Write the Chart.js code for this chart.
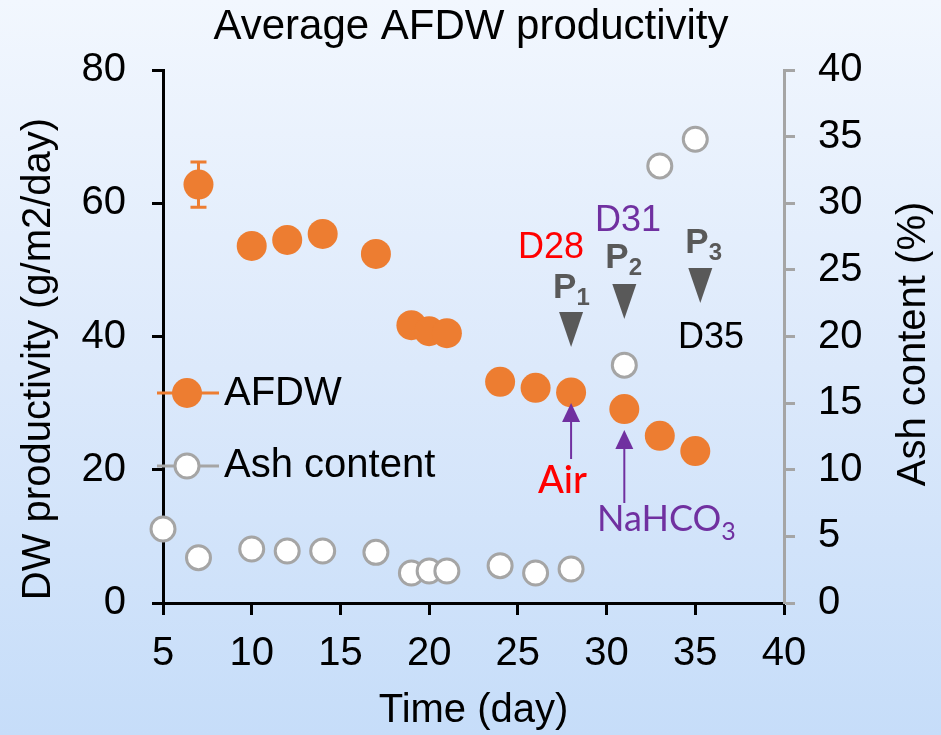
<!DOCTYPE html>
<html>
<head>
<meta charset="utf-8">
<script src="https://cdn.jsdelivr.net/npm/chart.js@4.4.1/dist/chart.umd.min.js"></script>
<style>
  html, body { margin: 0; padding: 0; }
  body {
    width: 941px; height: 735px; overflow: hidden;
    background: linear-gradient(to bottom, #f2f7fe 0%, #dce9fb 50%, #c6ddf9 100%);
  }
</style>
</head>
<body>
<canvas id="myChart" width="941" height="735"></canvas>
<script>
// data
const afdwDays = [7, 10, 12, 14, 17, 19, 20, 21, 24, 26, 28, 31, 33, 35];
const afdw = [62.8, 53.6, 54.5, 55.4, 52.4, 41.7, 40.8, 40.5, 33.2, 32.3, 31.6, 29.1, 25.1, 22.8];
const afdwErr = [3.4, 0, 0, 0, 0, 0, 0, 0, 0, 0, 0, 0, 0, 0];
const ashDays = [5, 7, 10, 12, 14, 17, 19, 20, 21, 24, 26, 28, 31, 33, 35];
const ash = [5.55, 3.4, 4.05, 3.9, 3.9, 3.8, 2.25, 2.4, 2.4, 2.8, 2.25, 2.55, 17.85, 32.8, 34.8];
const xTicks = [5, 10, 15, 20, 25, 30, 35, 40];
const leftTicks = [0, 20, 40, 60, 80];
const rightTicks = [0, 5, 10, 15, 20, 25, 30, 35, 40];

const ORANGE = '#ed7d31';
const GREY = '#a5a5a5';
const PURPLE = '#7030a0';
const FONT = '"Liberation Sans", Arial, sans-serif';
const CALIBRI = 'Lato, "Open Sans", sans-serif';

// error bars for the orange series
const errorBars = {
    id: 'errorBars',
    beforeDatasetsDraw(chart) {
        const ctx = chart.ctx;
        const xs = chart.scales.x, ys = chart.scales.y;
        ctx.save();
        ctx.strokeStyle = ORANGE;
        ctx.lineWidth = 3;
        for (var i = 0; i < afdwDays.length; i++) {
            if (!afdwErr[i]) continue;
            var x = xs.getPixelForValue(afdwDays[i]);
            var top = ys.getPixelForValue(afdw[i] + afdwErr[i]);
            var bot = ys.getPixelForValue(afdw[i] - afdwErr[i]);
            ctx.beginPath();
            ctx.moveTo(x, top); ctx.lineTo(x, bot);
            ctx.moveTo(x - 8, top); ctx.lineTo(x + 8, top);
            ctx.moveTo(x - 8, bot); ctx.lineTo(x + 8, bot);
            ctx.stroke();
        }
        ctx.restore();
    }
};

// title, axis titles, legend and the arrows / labels
const extras = {
    id: 'extras',
    afterDraw(chart) {
        const ctx = chart.ctx;
        const xs = chart.scales.x;
        const px = d => xs.getPixelForValue(d);
        ctx.save();

        // chart title
        ctx.fillStyle = '#000';
        ctx.font = '42px ' + FONT;
        ctx.textAlign = 'center';
        ctx.textBaseline = 'alphabetic';
        ctx.fillText('Average AFDW productivity', 471, 39);

        // axis titles (both read bottom to top)
        ctx.font = '40px ' + FONT;
        ctx.save();
        ctx.translate(50, 359);
        ctx.rotate(-Math.PI / 2);
        ctx.fillText('DW productivity (g/m2/day)', 0, 0);
        ctx.restore();
        ctx.save();
        ctx.translate(925, 344);
        ctx.rotate(-Math.PI / 2);
        ctx.fillText('Ash content (%)', 0, 0);
        ctx.restore();

        // legend
        ctx.lineWidth = 3;
        ctx.strokeStyle = ORANGE;
        ctx.beginPath(); ctx.moveTo(157, 393); ctx.lineTo(219, 393); ctx.stroke();
        ctx.fillStyle = ORANGE;
        ctx.beginPath(); ctx.arc(187, 393, 15, 0, Math.PI * 2); ctx.fill();
        ctx.strokeStyle = GREY;
        ctx.beginPath(); ctx.moveTo(157, 466); ctx.lineTo(219, 466); ctx.stroke();
        ctx.fillStyle = '#fff';
        ctx.beginPath(); ctx.arc(187, 466, 12, 0, Math.PI * 2); ctx.fill(); ctx.stroke();
        ctx.fillStyle = '#000';
        ctx.textAlign = 'left';
        ctx.textBaseline = 'middle';
        ctx.fillText('AFDW', 224, 394);
        ctx.fillText('Ash content', 224, 466);

        // harvest markers P1..P3
        ctx.textBaseline = 'alphabetic';
        function tri(cx, top) {
            ctx.fillStyle = '#595959';
            ctx.beginPath();
            ctx.moveTo(cx - 12, top); ctx.lineTo(cx + 12, top); ctx.lineTo(cx, top + 35);
            ctx.closePath(); ctx.fill();
        }
        function pLabel(x, base, sub) {
            ctx.fillStyle = '#595959';
            ctx.font = 'bold 35px ' + FONT;
            ctx.fillText('P', x, base);
            var w = ctx.measureText('P').width;
            ctx.font = 'bold 24px ' + FONT;
            ctx.fillText(sub, x + w, base + 7);
        }
        tri(px(28), 312); pLabel(px(28) - 18, 298, '1');
        tri(px(31), 284); pLabel(px(31) - 19, 268, '2');
        tri(px(35) + 5, 268); pLabel(px(35) - 10, 253, '3');

        ctx.font = '36px ' + FONT;
        ctx.fillStyle = '#ff0000';
        ctx.fillText('D28', 518, 258);
        ctx.fillStyle = PURPLE;
        ctx.fillText('D31', 595, 231);
        ctx.fillStyle = '#000';
        ctx.fillText('D35', 678, 348);

        // purple arrows
        function arrow(x, tip, end) {
            ctx.strokeStyle = PURPLE;
            ctx.fillStyle = PURPLE;
            ctx.lineWidth = 2;
            ctx.beginPath(); ctx.moveTo(x, tip + 15); ctx.lineTo(x, end); ctx.stroke();
            ctx.beginPath();
            ctx.moveTo(x, tip); ctx.lineTo(x - 9, tip + 19); ctx.lineTo(x + 9, tip + 19);
            ctx.closePath(); ctx.fill();
        }
        arrow(px(28), 403, 459);
        arrow(px(31), 430, 503);

        ctx.font = '500 38px ' + CALIBRI;
        ctx.fillStyle = '#ff0000';
        ctx.fillText('Air', 538, 493);
        ctx.fillStyle = PURPLE;
        ctx.font = '36px ' + CALIBRI;
        ctx.fillText('NaHCO', 597, 531);
        var w = ctx.measureText('NaHCO').width;
        ctx.font = '25px ' + CALIBRI;
        ctx.fillText('3', 597 + w, 540);

        ctx.restore();
    }
};

const tickFont = { family: FONT, size: 40 };

const config = {
    type: 'scatter',
    data: {
        datasets: [{
            label: 'AFDW',
            data: afdwDays.map((d, i) => ({ x: d, y: afdw[i] })),
            yAxisID: 'y',
            pointRadius: 15,
            pointBackgroundColor: ORANGE,
            pointBorderColor: ORANGE,
            pointBorderWidth: 0,
            showLine: false,
            clip: false
        }, {
            label: 'Ash content',
            data: ashDays.map((d, i) => ({ x: d, y: ash[i] })),
            yAxisID: 'y1',
            pointRadius: 12,
            pointBackgroundColor: '#ffffff',
            pointBorderColor: GREY,
            pointBorderWidth: 3,
            showLine: false,
            clip: false
        }]
    },
    options: {
        responsive: false,
        animation: false,
        devicePixelRatio: 1,
        layout: { padding: { top: 70, left: 0, right: 0, bottom: 0 } },
        plugins: { legend: { display: false }, tooltip: { enabled: false }, title: { display: false } },
        scales: {
            x: {
                type: 'linear', min: 5, max: 40,
                afterBuildTicks: s => { s.ticks = xTicks.map(v => ({ value: v })); },
                ticks: { font: tickFont, color: '#000', padding: 15, maxRotation: 0 },
                grid: { drawOnChartArea: false, tickLength: 12, tickWidth: 3, tickColor: '#000' },
                border: { color: '#000', width: 3 },
                title: { display: true, text: 'Time (day)', color: '#000', font: { family: FONT, size: 40, lineHeight: 1.2 }, padding: { top: 0, bottom: 0 } },
                afterFit: s => { s.height = 132; }
            },
            y: {
                position: 'left', min: 0, max: 80,
                afterBuildTicks: s => { s.ticks = leftTicks.map(v => ({ value: v })); },
                ticks: { font: tickFont, color: '#000', padding: 26 },
                grid: { drawOnChartArea: false, tickLength: 11, tickWidth: 3, tickColor: '#000' },
                border: { color: '#000', width: 3 },
                afterFit: s => { s.width = 163; }
            },
            y1: {
                position: 'right', min: 0, max: 40,
                afterBuildTicks: s => { s.ticks = rightTicks.map(v => ({ value: v })); },
                ticks: { font: tickFont, color: '#000', padding: 23 },
                grid: { drawOnChartArea: false, tickLength: 11, tickWidth: 3, tickColor: GREY },
                border: { color: GREY, width: 3 },
                afterFit: s => { s.width = 157; }
            }
        }
    },
    plugins: [errorBars, extras]
};

const myChart = new Chart(document.getElementById('myChart'), config);
</script>
</body>
</html>
